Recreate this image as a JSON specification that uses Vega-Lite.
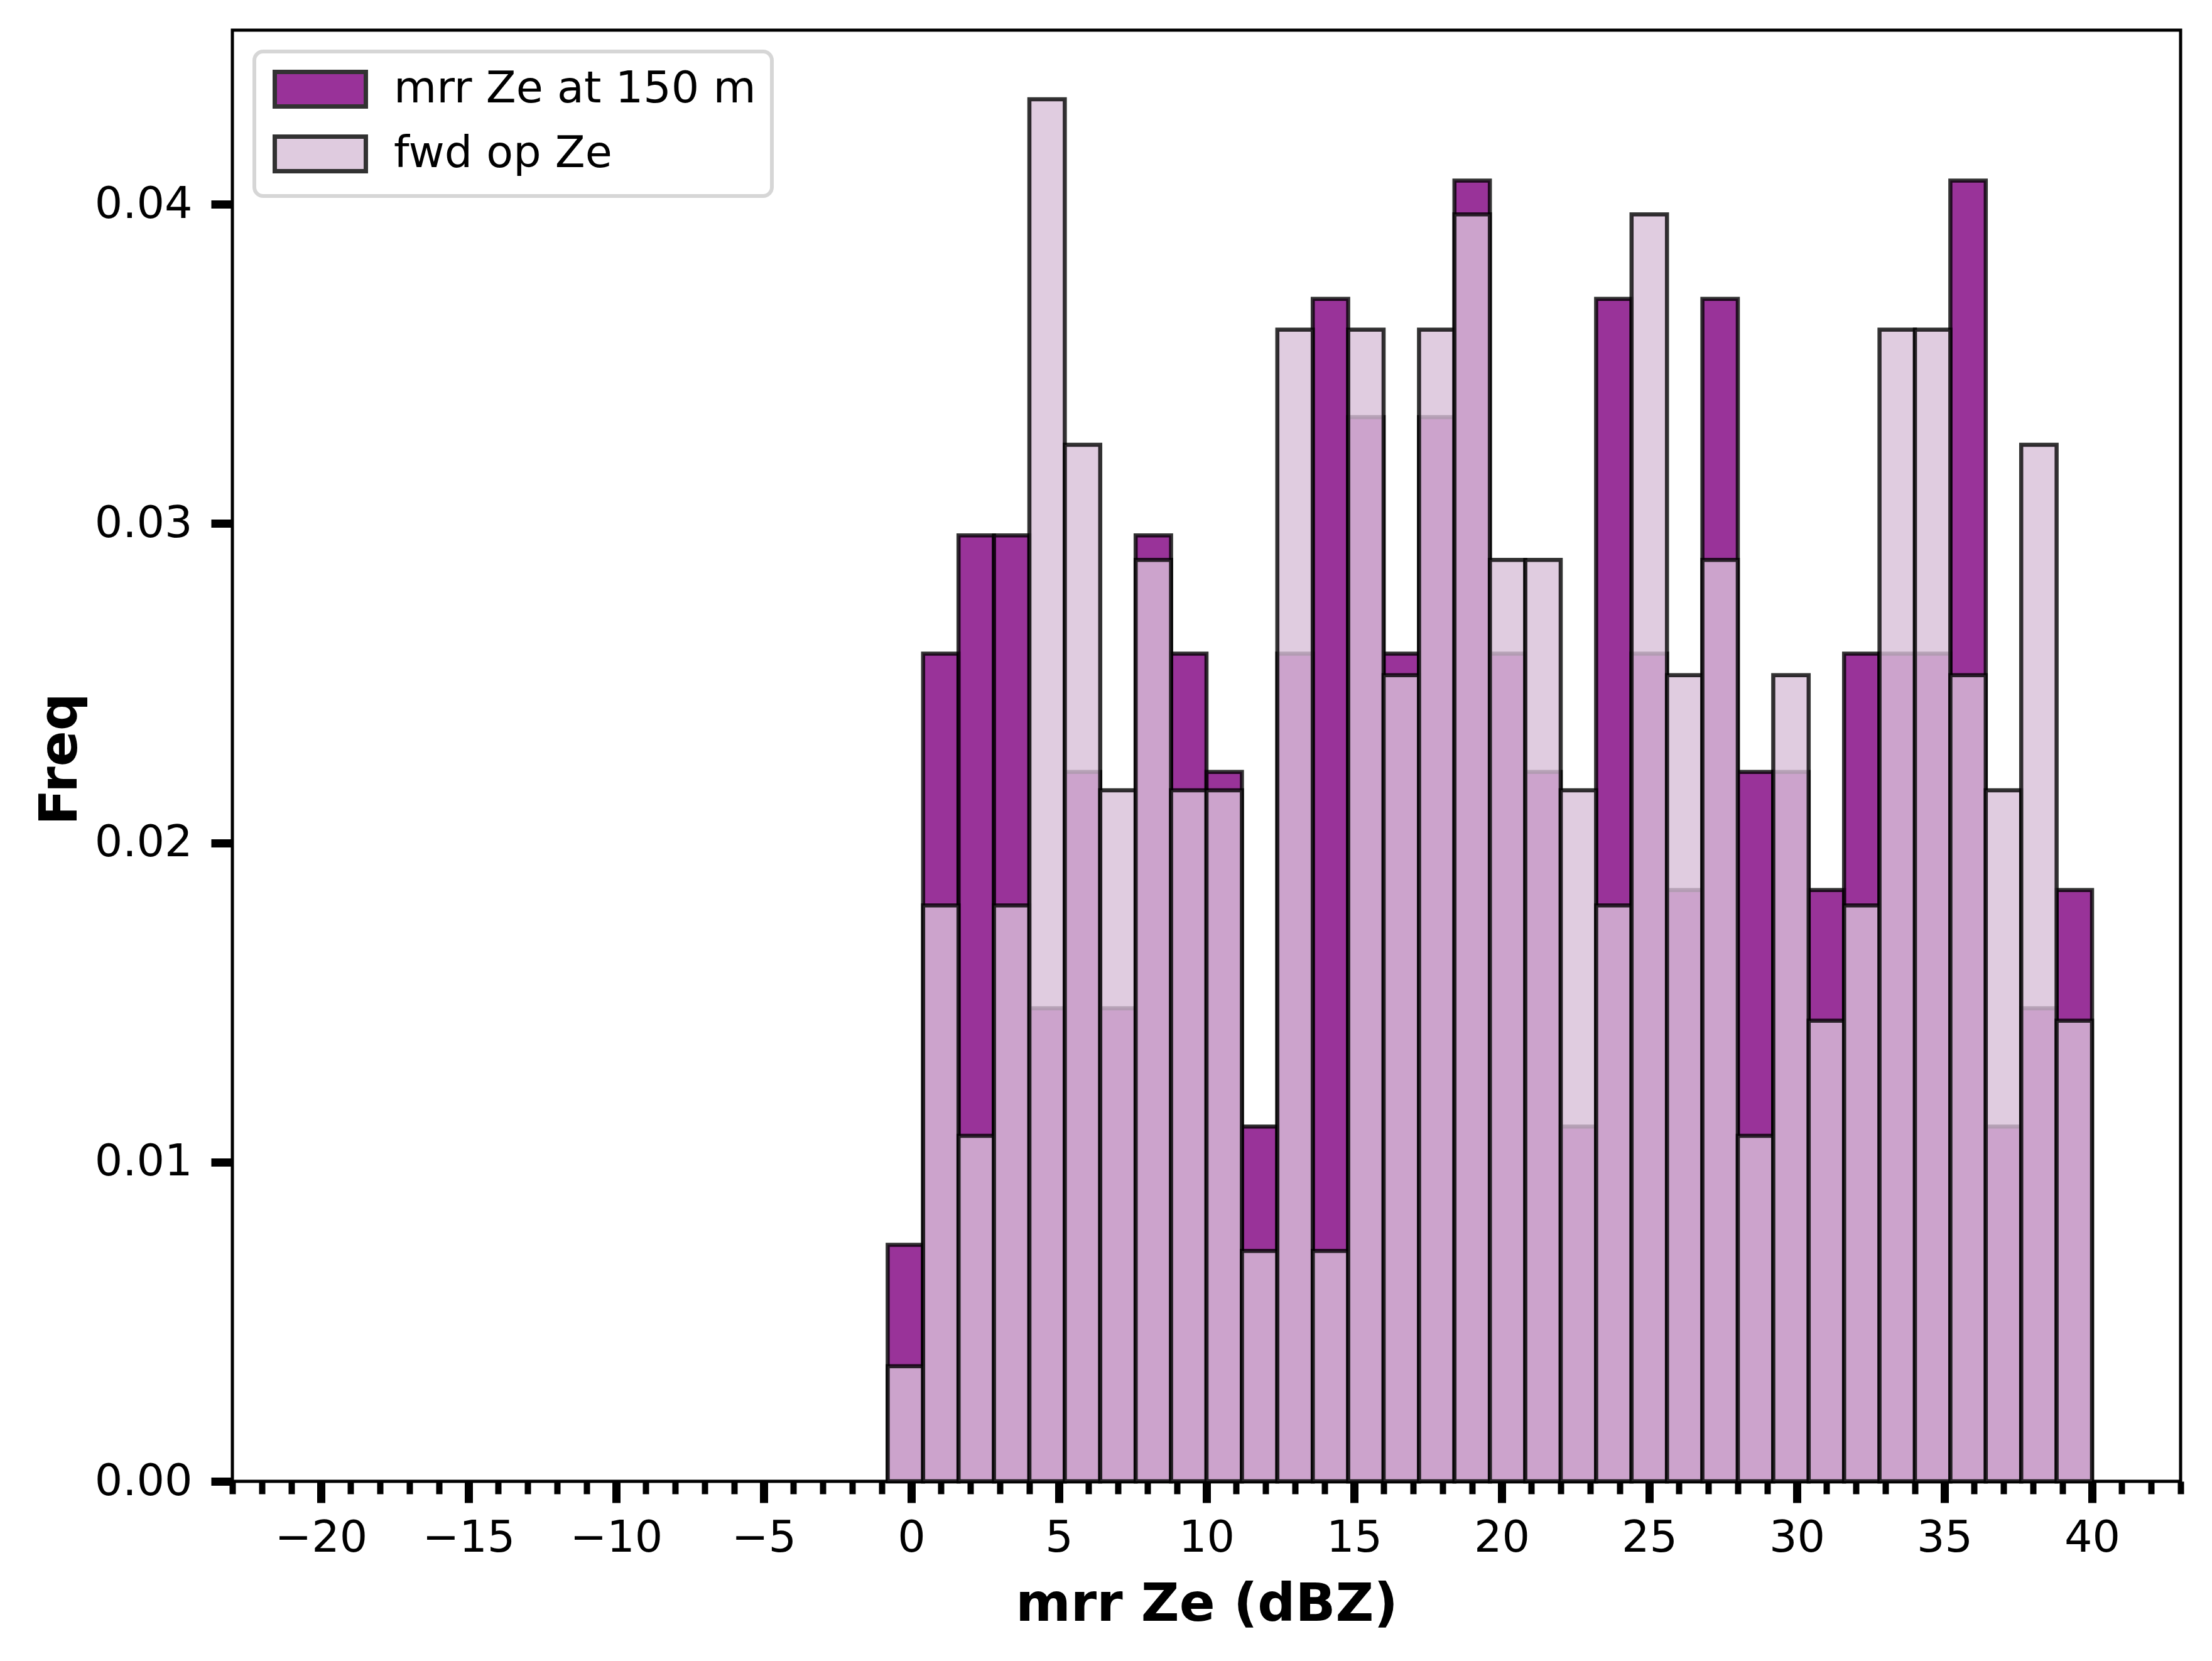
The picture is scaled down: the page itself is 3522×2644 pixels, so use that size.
{
  "$schema": "https://vega.github.io/schema/vega-lite/v6.json",
  "width": 3102,
  "height": 2310,
  "autosize": {"type": "none"},
  "padding": {"left": 370, "top": 48, "right": 50, "bottom": 286},
  "background": "white",
  "datasets": {
    "mrr": [
      {"series": "mrr Ze at 150 m", "bin_start": -0.8, "bin_end": 0.4, "freq": 0.007407},
      {"series": "mrr Ze at 150 m", "bin_start": 0.4, "bin_end": 1.6, "freq": 0.025926},
      {"series": "mrr Ze at 150 m", "bin_start": 1.6, "bin_end": 2.8, "freq": 0.029630},
      {"series": "mrr Ze at 150 m", "bin_start": 2.8, "bin_end": 4.0, "freq": 0.029630},
      {"series": "mrr Ze at 150 m", "bin_start": 4.0, "bin_end": 5.2, "freq": 0.014815},
      {"series": "mrr Ze at 150 m", "bin_start": 5.2, "bin_end": 6.4, "freq": 0.022222},
      {"series": "mrr Ze at 150 m", "bin_start": 6.4, "bin_end": 7.6, "freq": 0.014815},
      {"series": "mrr Ze at 150 m", "bin_start": 7.6, "bin_end": 8.8, "freq": 0.029630},
      {"series": "mrr Ze at 150 m", "bin_start": 8.8, "bin_end": 10.0, "freq": 0.025926},
      {"series": "mrr Ze at 150 m", "bin_start": 10.0, "bin_end": 11.2, "freq": 0.022222},
      {"series": "mrr Ze at 150 m", "bin_start": 11.2, "bin_end": 12.4, "freq": 0.011111},
      {"series": "mrr Ze at 150 m", "bin_start": 12.4, "bin_end": 13.6, "freq": 0.025926},
      {"series": "mrr Ze at 150 m", "bin_start": 13.6, "bin_end": 14.8, "freq": 0.037037},
      {"series": "mrr Ze at 150 m", "bin_start": 14.8, "bin_end": 16.0, "freq": 0.033333},
      {"series": "mrr Ze at 150 m", "bin_start": 16.0, "bin_end": 17.2, "freq": 0.025926},
      {"series": "mrr Ze at 150 m", "bin_start": 17.2, "bin_end": 18.4, "freq": 0.033333},
      {"series": "mrr Ze at 150 m", "bin_start": 18.4, "bin_end": 19.6, "freq": 0.040741},
      {"series": "mrr Ze at 150 m", "bin_start": 19.6, "bin_end": 20.8, "freq": 0.025926},
      {"series": "mrr Ze at 150 m", "bin_start": 20.8, "bin_end": 22.0, "freq": 0.022222},
      {"series": "mrr Ze at 150 m", "bin_start": 22.0, "bin_end": 23.2, "freq": 0.011111},
      {"series": "mrr Ze at 150 m", "bin_start": 23.2, "bin_end": 24.4, "freq": 0.037037},
      {"series": "mrr Ze at 150 m", "bin_start": 24.4, "bin_end": 25.6, "freq": 0.025926},
      {"series": "mrr Ze at 150 m", "bin_start": 25.6, "bin_end": 26.8, "freq": 0.018519},
      {"series": "mrr Ze at 150 m", "bin_start": 26.8, "bin_end": 28.0, "freq": 0.037037},
      {"series": "mrr Ze at 150 m", "bin_start": 28.0, "bin_end": 29.2, "freq": 0.022222},
      {"series": "mrr Ze at 150 m", "bin_start": 29.2, "bin_end": 30.4, "freq": 0.022222},
      {"series": "mrr Ze at 150 m", "bin_start": 30.4, "bin_end": 31.6, "freq": 0.018519},
      {"series": "mrr Ze at 150 m", "bin_start": 31.6, "bin_end": 32.8, "freq": 0.025926},
      {"series": "mrr Ze at 150 m", "bin_start": 32.8, "bin_end": 34.0, "freq": 0.025926},
      {"series": "mrr Ze at 150 m", "bin_start": 34.0, "bin_end": 35.2, "freq": 0.025926},
      {"series": "mrr Ze at 150 m", "bin_start": 35.2, "bin_end": 36.4, "freq": 0.040741},
      {"series": "mrr Ze at 150 m", "bin_start": 36.4, "bin_end": 37.6, "freq": 0.011111},
      {"series": "mrr Ze at 150 m", "bin_start": 37.6, "bin_end": 38.8, "freq": 0.014815},
      {"series": "mrr Ze at 150 m", "bin_start": 38.8, "bin_end": 40.0, "freq": 0.018519}
    ],
    "fwd": [
      {"series": "fwd op Ze", "bin_start": -0.8, "bin_end": 0.4, "freq": 0.003608},
      {"series": "fwd op Ze", "bin_start": 0.4, "bin_end": 1.6, "freq": 0.018038},
      {"series": "fwd op Ze", "bin_start": 1.6, "bin_end": 2.8, "freq": 0.010823},
      {"series": "fwd op Ze", "bin_start": 2.8, "bin_end": 4.0, "freq": 0.018038},
      {"series": "fwd op Ze", "bin_start": 4.0, "bin_end": 5.2, "freq": 0.043290},
      {"series": "fwd op Ze", "bin_start": 5.2, "bin_end": 6.4, "freq": 0.032468},
      {"series": "fwd op Ze", "bin_start": 6.4, "bin_end": 7.6, "freq": 0.021645},
      {"series": "fwd op Ze", "bin_start": 7.6, "bin_end": 8.8, "freq": 0.028860},
      {"series": "fwd op Ze", "bin_start": 8.8, "bin_end": 10.0, "freq": 0.021645},
      {"series": "fwd op Ze", "bin_start": 10.0, "bin_end": 11.2, "freq": 0.021645},
      {"series": "fwd op Ze", "bin_start": 11.2, "bin_end": 12.4, "freq": 0.007215},
      {"series": "fwd op Ze", "bin_start": 12.4, "bin_end": 13.6, "freq": 0.036075},
      {"series": "fwd op Ze", "bin_start": 13.6, "bin_end": 14.8, "freq": 0.007215},
      {"series": "fwd op Ze", "bin_start": 14.8, "bin_end": 16.0, "freq": 0.036075},
      {"series": "fwd op Ze", "bin_start": 16.0, "bin_end": 17.2, "freq": 0.025253},
      {"series": "fwd op Ze", "bin_start": 17.2, "bin_end": 18.4, "freq": 0.036075},
      {"series": "fwd op Ze", "bin_start": 18.4, "bin_end": 19.6, "freq": 0.039683},
      {"series": "fwd op Ze", "bin_start": 19.6, "bin_end": 20.8, "freq": 0.028860},
      {"series": "fwd op Ze", "bin_start": 20.8, "bin_end": 22.0, "freq": 0.028860},
      {"series": "fwd op Ze", "bin_start": 22.0, "bin_end": 23.2, "freq": 0.021645},
      {"series": "fwd op Ze", "bin_start": 23.2, "bin_end": 24.4, "freq": 0.018038},
      {"series": "fwd op Ze", "bin_start": 24.4, "bin_end": 25.6, "freq": 0.039683},
      {"series": "fwd op Ze", "bin_start": 25.6, "bin_end": 26.8, "freq": 0.025253},
      {"series": "fwd op Ze", "bin_start": 26.8, "bin_end": 28.0, "freq": 0.028860},
      {"series": "fwd op Ze", "bin_start": 28.0, "bin_end": 29.2, "freq": 0.010823},
      {"series": "fwd op Ze", "bin_start": 29.2, "bin_end": 30.4, "freq": 0.025253},
      {"series": "fwd op Ze", "bin_start": 30.4, "bin_end": 31.6, "freq": 0.014430},
      {"series": "fwd op Ze", "bin_start": 31.6, "bin_end": 32.8, "freq": 0.018038},
      {"series": "fwd op Ze", "bin_start": 32.8, "bin_end": 34.0, "freq": 0.036075},
      {"series": "fwd op Ze", "bin_start": 34.0, "bin_end": 35.2, "freq": 0.036075},
      {"series": "fwd op Ze", "bin_start": 35.2, "bin_end": 36.4, "freq": 0.025253},
      {"series": "fwd op Ze", "bin_start": 36.4, "bin_end": 37.6, "freq": 0.021645},
      {"series": "fwd op Ze", "bin_start": 37.6, "bin_end": 38.8, "freq": 0.032468},
      {"series": "fwd op Ze", "bin_start": 38.8, "bin_end": 40.0, "freq": 0.014430}
    ]
  },
  "layer": [
    {
      "data": {"name": "mrr"},
      "mark": {"type": "rect", "fillOpacity": 0.8, "stroke": "black", "strokeOpacity": 0.8, "strokeWidth": 6.5},
      "encoding": {
        "x": {
          "field": "bin_start",
          "type": "quantitative",
          "scale": {"domain": [-23, 43], "nice": false, "zero": false},
          "axis": {
            "title": "mrr Ze (dBZ)",
            "values": [-23, -22, -21, -20, -19, -18, -17, -16, -15, -14, -13, -12, -11, -10, -9, -8, -7, -6, -5, -4, -3, -2, -1, 0, 1, 2, 3, 4, 5, 6, 7, 8, 9, 10, 11, 12, 13, 14, 15, 16, 17, 18, 19, 20, 21, 22, 23, 24, 25, 26, 27, 28, 29, 30, 31, 32, 33, 34, 35, 36, 37, 38, 39, 40, 41, 42, 43],
            "labelExpr": "datum.value % 5 === 0 ? format(datum.value, 'd') : ''",
            "tickSize": {"condition": {"test": "datum.value % 5 === 0", "value": 34}, "value": 20},
            "tickWidth": {"condition": {"test": "datum.value % 5 === 0", "value": 13}, "value": 10},
            "labelPadding": 22,
            "labelOverlap": false,
            "labelFlush": false,
            "labelBound": false,
            "titleX": 1551,
            "titleY": 221,
            "titleBaseline": "alphabetic",
            "titleAlign": "center"
          }
        },
        "x2": {"field": "bin_end"},
        "y": {
          "field": "freq",
          "type": "quantitative",
          "scale": {"domain": [0, 0.045455], "nice": false, "zero": true},
          "axis": {
            "title": "Freq",
            "values": [0, 0.01, 0.02, 0.03, 0.04],
            "format": ".2f",
            "tickSize": 34,
            "tickWidth": 13,
            "labelPadding": 30,
            "titleX": -249,
            "titleY": 1160,
            "titleAngle": -90,
            "titleBaseline": "alphabetic",
            "titleAlign": "center"
          }
        },
        "y2": {"datum": 0},
        "color": {
          "field": "series",
          "type": "nominal",
          "scale": {"domain": ["mrr Ze at 150 m", "fwd op Ze"], "range": ["purple", "thistle"]},
          "legend": {
            "title": null,
            "orient": "none",
            "legendX": 35,
            "legendY": 34
          }
        }
      }
    },
    {
      "data": {"name": "fwd"},
      "mark": {"type": "rect", "fillOpacity": 0.8, "stroke": "black", "strokeOpacity": 0.8, "strokeWidth": 6.5},
      "encoding": {
        "x": {"field": "bin_start", "type": "quantitative"},
        "x2": {"field": "bin_end"},
        "y": {"field": "freq", "type": "quantitative"},
        "y2": {"datum": 0},
        "color": {"field": "series", "type": "nominal"}
      }
    }
  ],
  "config": {
    "view": {"stroke": "black", "strokeWidth": 5},
    "axis": {
      "domain": false,
      "grid": false,
      "tickColor": "black",
      "labelFont": "DejaVu Sans",
      "labelFontSize": 70,
      "labelColor": "black",
      "titleFont": "DejaVu Sans",
      "titleFontSize": 84,
      "titleFontWeight": "bold",
      "titleColor": "black"
    },
    "legend": {
      "symbolType": "M-1,-1H4.273V1H-1Z",
      "symbolSize": 3025,
      "symbolStrokeColor": "black",
      "symbolStrokeWidth": 7,
      "symbolOpacity": 0.8,
      "labelFont": "DejaVu Sans",
      "labelFontSize": 70,
      "labelColor": "black",
      "labelOffset": 127,
      "labelLimit": 0,
      "padding": 25,
      "rowPadding": 19,
      "strokeColor": "#d6d6d6",
      "strokeWidth": 6,
      "cornerRadius": 14,
      "fillColor": "white"
    }
  }
}
